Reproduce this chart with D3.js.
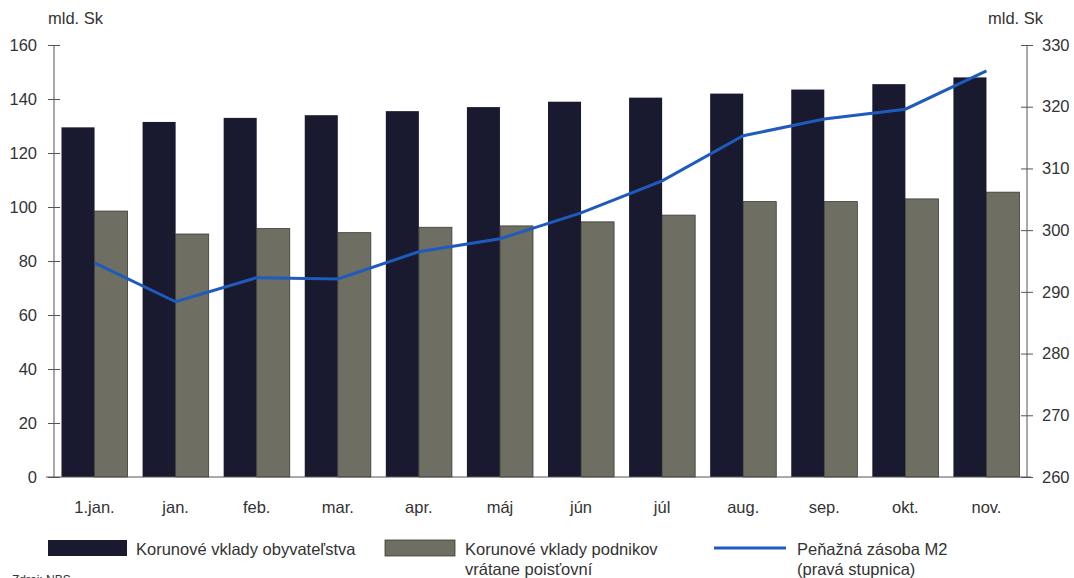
<!DOCTYPE html>
<html>
<head>
<meta charset="utf-8">
<script src="https://cdn.jsdelivr.net/npm/d3@7"></script>
<style>
  body { margin: 0; background: #fff; }
  text { font-family: "Liberation Sans", Arial, sans-serif; fill: #333; }
</style>
</head>
<body>
<script>
const width = 1074;
const height = 578;

// data
const months = ["1.jan.", "jan.", "feb.", "mar.", "apr.", "máj", "jún", "júl", "aug.", "sep.", "okt.", "nov."];
const households = [129.5, 131.5, 133, 134, 135.5, 137, 139, 140.5, 142, 143.5, 145.5, 148];
const companies = [98.5, 90, 92, 90.5, 92.5, 93, 94.5, 97, 102, 102, 103, 105.5];
const m2 = [294.7, 288.4, 292.3, 292.1, 296.5, 298.6, 302.8, 308, 315.3, 318, 319.6, 325.8];
const leftTicks = [0, 20, 40, 60, 80, 100, 120, 140, 160];
const rightTicks = [260, 270, 280, 290, 300, 310, 320, 330];

const plotLeft = 54, plotRight = 1027, plotTop = 45, plotBottom = 477;
const fs = 16.5;

const svg = d3.select("body").append("svg")
  .attr("width", width)
  .attr("height", height);

const x = d3.scaleBand()
  .domain(months)
  .range([plotLeft, plotRight])
  .paddingInner(0.185)
  .paddingOuter(0.0925);

const x1 = d3.scaleBand()
  .domain(["h", "c"])
  .range([0, x.bandwidth()]);

const yL = d3.scaleLinear().domain([0, 160]).range([plotBottom, plotTop]);
const yR = d3.scaleLinear().domain([260, 330]).range([plotBottom, plotTop]);

const colDark = "#19192f";
const colGray = "#6e6f62";
const colLine = "#1e5bbd";

// bars
const groups = svg.append("g")
  .selectAll("g")
  .data(months)
  .join("g")
  .attr("transform", (d) => `translate(${x(d)},0)`);

groups.append("rect")
  .attr("x", x1("h"))
  .attr("y", (d, i) => yL(households[i]))
  .attr("width", x1.bandwidth())
  .attr("height", (d, i) => plotBottom - yL(households[i]))
  .attr("fill", colDark);

groups.append("rect")
  .attr("x", x1("c"))
  .attr("y", (d, i) => yL(companies[i]))
  .attr("width", x1.bandwidth())
  .attr("height", (d, i) => plotBottom - yL(companies[i]))
  .attr("fill", colGray)
  .attr("stroke", "#3a3a34")
  .attr("stroke-width", 0.8);

// line
const line = d3.line()
  .x((d, i) => x(months[i]) + x.bandwidth() / 2)
  .y((d) => yR(d));

svg.append("path")
  .datum(m2)
  .attr("d", line)
  .attr("fill", "none")
  .attr("stroke", colLine)
  .attr("stroke-width", 3);

// axes
const axisL = svg.append("g")
  .attr("transform", `translate(${plotLeft},0)`)
  .call(d3.axisLeft(yL).tickValues(leftTicks).tickSize(6).tickPadding(11));
axisL.selectAll(".tick line").attr("x2", 6).attr("x1", -6);

const axisR = svg.append("g")
  .attr("transform", `translate(${plotRight},0)`)
  .call(d3.axisRight(yR).tickValues(rightTicks).tickSize(6).tickPadding(9));
axisR.selectAll(".tick line").attr("x1", -6).attr("x2", 6);

[axisL, axisR].forEach((a) => {
  a.select(".domain").attr("d", `M0,${plotTop}V${plotBottom}`).attr("stroke", "#555");
  a.selectAll(".tick line").attr("stroke", "#555");
  a.selectAll(".tick text").attr("font-size", fs).attr("fill", "#333")
    .attr("font-family", "Liberation Sans, Arial, sans-serif");
});

// x axis baseline
svg.append("line")
  .attr("x1", plotLeft - 8).attr("x2", plotRight + 4)
  .attr("y1", plotBottom).attr("y2", plotBottom)
  .attr("stroke", "#555");

svg.append("g")
  .selectAll("text")
  .data(months)
  .join("text")
  .attr("x", (d) => x(d) + x.bandwidth() / 2)
  .attr("y", 513)
  .attr("text-anchor", "middle")
  .attr("font-size", fs)
  .text((d) => d);

// units
svg.append("text").attr("x", 48).attr("y", 24).attr("font-size", fs).text("mld. Sk");
svg.append("text").attr("x", 988).attr("y", 24).attr("font-size", fs).text("mld. Sk");

// legend
svg.append("rect").attr("x", 48).attr("y", 540).attr("width", 79).attr("height", 16).attr("fill", colDark);
svg.append("text").attr("x", 136).attr("y", 555).attr("font-size", fs).text("Korunové vklady obyvateľstva");

svg.append("rect").attr("x", 385).attr("y", 540).attr("width", 70).attr("height", 16)
  .attr("fill", colGray).attr("stroke", "#3a3a34").attr("stroke-width", 0.8);
svg.append("text").attr("x", 465).attr("y", 555).attr("font-size", fs).text("Korunové vklady podnikov");
svg.append("text").attr("x", 465).attr("y", 575).attr("font-size", fs).text("vrátane poisťovní");

svg.append("line").attr("x1", 714).attr("x2", 786).attr("y1", 548).attr("y2", 548)
  .attr("stroke", colLine).attr("stroke-width", 3);
svg.append("text").attr("x", 797).attr("y", 555).attr("font-size", fs).text("Peňažná zásoba M2");
svg.append("text").attr("x", 797).attr("y", 575).attr("font-size", fs).text("(pravá stupnica)");

// source (cut at bottom edge, as in the reference)
svg.append("text").attr("x", 12).attr("y", 584).attr("font-size", 12).text("Zdroj: NBS");
</script>
</body>
</html>
